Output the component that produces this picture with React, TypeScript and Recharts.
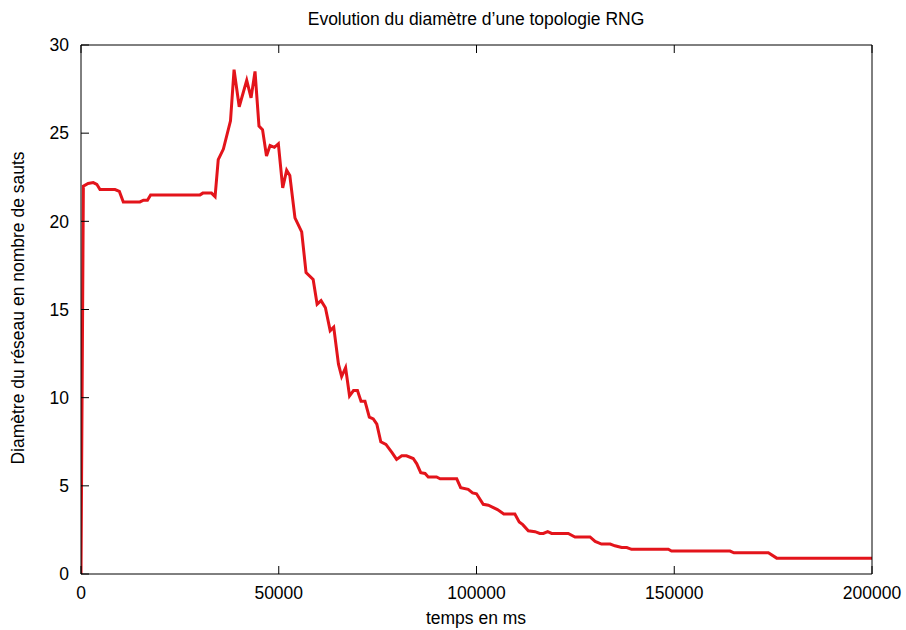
import { LineChart, Line, XAxis, YAxis } from 'recharts'

// temps (ms) et diamètre
const timesMs = [
  0, 600, 1800, 3100, 4000, 4800, 8600, 9700, 10700, 14900, 15800, 16800, 17600,
  30100, 30800, 33000, 33900, 34700, 36000, 37800, 38700, 40000, 41900, 43000,
  44000, 45000, 45900, 46900, 47800, 48900, 49900, 51000, 52000, 52800, 54100,
  55800, 56900, 58700, 59700, 60700, 61800, 63000, 63900, 65100, 65900, 66900,
  67900, 68900, 69900, 70800, 71800, 72900, 73900, 74800, 75800, 77100, 78600,
  79800, 81100, 82300, 84000, 84900, 85900, 87000, 87800, 89900, 90800, 95000,
  96000, 97900, 99000, 100000, 101700, 103000, 105300, 106900, 109700, 110800,
  111700, 113100, 114800, 116000, 116900, 118000, 119000, 123200, 124900, 128700,
  130000, 131600, 133800, 135000, 136700, 138000, 139200, 148500, 149300, 164100,
  165100, 173800, 175900, 200000,
]

const diameters = [
  0, 22.0, 22.15, 22.2, 22.1, 21.8, 21.8, 21.7, 21.1, 21.1, 21.2, 21.2, 21.5,
  21.5, 21.6, 21.6, 21.4, 23.5, 24.1, 25.7, 28.6, 26.5, 28.0, 27.0,
  28.5, 25.4, 25.2, 23.7, 24.3, 24.2, 24.4, 21.9, 22.9, 22.6, 20.2,
  19.4, 17.1, 16.7, 15.3, 15.5, 15.1, 13.8, 14.0, 11.9, 11.2, 11.7,
  10.1, 10.4, 10.4, 9.8, 9.8, 8.9, 8.8, 8.5, 7.5, 7.35, 6.9,
  6.5, 6.7, 6.7, 6.55, 6.25, 5.75, 5.7, 5.5, 5.5, 5.4, 5.4,
  4.9, 4.8, 4.6, 4.55, 3.95, 3.9, 3.65, 3.4, 3.4, 2.95,
  2.8, 2.45, 2.4, 2.3, 2.3, 2.4, 2.3, 2.3, 2.1, 2.1,
  1.85, 1.7, 1.7, 1.6, 1.5, 1.5, 1.4, 1.4, 1.3, 1.3,
  1.2, 1.2, 0.9, 0.9,
]

const xTicks = [0, 50000, 100000, 150000, 200000]
const yTicks = [0, 5, 10, 15, 20, 25, 30]

const data = timesMs.map((t, i) => ({ t, d: diameters[i] }))

const font = "'Liberation Sans', Arial, sans-serif"
const tickStyle = { fontSize: 17.5, fill: '#000', fontFamily: font }
const noLabel = () => ''

export default function App() {
  return (
    <div style={{ position: 'absolute', left: 0, top: 0, width: 906, height: 630, background: '#fff', fontFamily: font, color: '#000', fontSize: 17.5 }}>
      <div style={{ position: 'absolute', left: 0, width: 906, top: 9, textAlign: 'center', paddingLeft: 46, boxSizing: 'border-box' }}>
        Evolution du diamètre d’une topologie RNG
      </div>
      <div style={{ position: 'absolute', left: 0, width: 906, top: 608, textAlign: 'center', paddingLeft: 46, boxSizing: 'border-box' }}>
        temps en ms
      </div>
      <div style={{ position: 'absolute', left: 18, top: 308, transform: 'translate(-50%, -50%) rotate(-90deg)', whiteSpace: 'nowrap' }}>
        Diamètre du réseau en nombre de sauts
      </div>
      <LineChart width={906} height={630} data={data} margin={{ top: 44, right: 33, bottom: 55, left: 80 }}>
        <XAxis dataKey="t" type="number" domain={[0, 200000]} ticks={xTicks} interval={0}
          height={1} tickSize={-8} tickMargin={21} stroke="#000" tick={tickStyle} allowDataOverflow />
        <XAxis xAxisId="top" orientation="top" dataKey="t" type="number" domain={[0, 200000]} ticks={xTicks}
          interval={0} height={1} tickSize={-8} tickFormatter={noLabel} stroke="#000" />
        <YAxis domain={[0, 30]} ticks={yTicks} interval={0} width={1} tickSize={-8} tickMargin={20}
          stroke="#000" tick={tickStyle} allowDataOverflow />
        <YAxis yAxisId="right" orientation="right" domain={[0, 30]} ticks={yTicks} interval={0} width={1}
          tickSize={-8} tickFormatter={noLabel} stroke="#000" />
        <Line dataKey="d" type="linear" stroke="#e3141b" strokeWidth={3} dot={false} isAnimationActive={false} />
      </LineChart>
    </div>
  )
}
